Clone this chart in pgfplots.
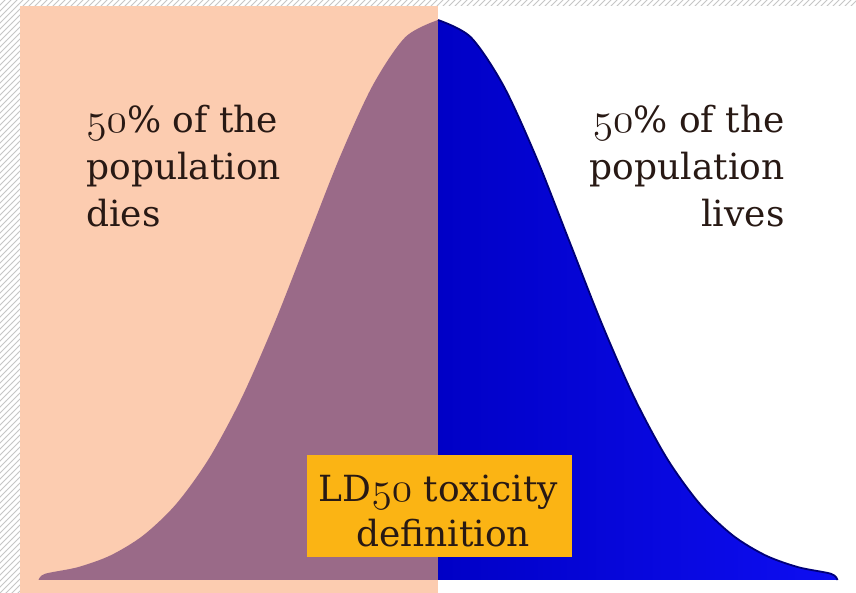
\documentclass[border=0pt]{standalone}
\usepackage{pgfplots}
\pgfplotsset{compat=1.18}
\usepackage{fontspec}
\setmainfont{DejaVu Serif}
\usetikzlibrary{patterns}
\definecolor{peach}{RGB}{252,204,176}
\definecolor{mauve}{RGB}{154,106,136}
\definecolor{bluedark}{RGB}{0,0,198}
\definecolor{bluelight}{RGB}{14,14,242}
\definecolor{blueedge}{RGB}{0,0,120}
\definecolor{boxorange}{RGB}{251,180,20}
\definecolor{txt}{RGB}{40,25,20}
\newcommand\osn[1]{{\fontsize{20.74}{24}\usefont{OML}{cmm}{m}{it}#1}}
\newcommand\tf{\fontsize{18}{22}\selectfont}
\tikzset{lbl/.style={text=txt, font=\tf, inner sep=0pt}}
\begin{document}
\begin{tikzpicture}
\begin{axis}[scale only axis, width=428pt, height=296.5pt,
  xmin=0, xmax=856, ymin=0, ymax=593, hide axis, clip=false]
% background
\fill[white] (axis cs:0,0) rectangle (axis cs:856,593);
\fill[pattern=north east lines, pattern color=gray!45] (axis cs:0,0) rectangle (axis cs:20,593);
\fill[pattern=north east lines, pattern color=gray!45] (axis cs:20,587) rectangle (axis cs:856,593);
\fill[peach] (axis cs:20,0) rectangle (axis cs:438,587);
% left half of the bell curve
\addplot[fill=mauve, draw=none, smooth] coordinates {
(38.5,13) (45,19.2) (77.75,25.8) (110.5,37.6) (143.25,57.6) (176,88.8)
(208.75,134.1) (241.5,194.8) (274.25,269.4) (307,352.6) (339.75,435.7)
(372.5,507.2) (405.25,555.8) (438,573)} -- (axis cs:438,13) -- cycle;
% right half of the bell curve
\addplot[left color=bluedark, right color=bluelight, draw=none, smooth] coordinates {
(438,573) (470.75,555.8) (503.5,507.2) (536.25,435.7) (569,352.6) (601.75,269.4)
(634.5,194.8) (667.25,134.1) (700,88.8) (732.75,57.6) (765.5,37.6)
(798.25,25.8) (831,19.2) (837.5,13)} -- (axis cs:438,13) -- cycle;
\addplot[draw=blueedge, line width=0.9pt, smooth] coordinates {
(438,573) (470.75,555.8) (503.5,507.2) (536.25,435.7) (569,352.6) (601.75,269.4)
(634.5,194.8) (667.25,134.1) (700,88.8) (732.75,57.6) (765.5,37.6)
(798.25,25.8) (831,19.2) (837.5,13)};
% label box
\fill[boxorange] (axis cs:307,36) rectangle (axis cs:572,138);
\node[lbl, anchor=base] at (axis cs:438.5,91) {LD\osn{50} toxicity};
\node[lbl, anchor=base] at (axis cs:443,46) {definition};
% left texts
\node[lbl, anchor=base west] at (axis cs:86,460) {\osn{50}\% of the};
\node[lbl, anchor=base west] at (axis cs:86,413) {population};
\node[lbl, anchor=base west] at (axis cs:86,366) {dies};
% right texts
\node[lbl, anchor=base east] at (axis cs:785,460) {\osn{50}\% of the};
\node[lbl, anchor=base east] at (axis cs:785,413) {population};
\node[lbl, anchor=base east] at (axis cs:785,366) {lives};
\end{axis}
\end{tikzpicture}
\end{document}
